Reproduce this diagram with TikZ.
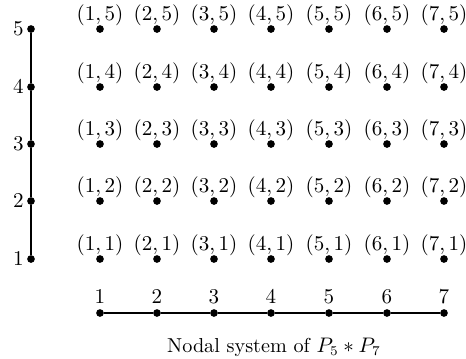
\documentclass[tikz,border=0pt]{standalone}
\begin{document}
\begin{tikzpicture}[x=0.52pt,y=-0.52pt,
  dot/.style={circle,fill=black,inner sep=0pt,minimum size=4pt},
  lbl/.style={inner sep=0pt,font=\fontsize{10.5}{12.6}\selectfont},
  edge/.style={line width=0.8pt}]
\useasboundingbox (0,0) rectangle (466,358);
% vertical path P5
\foreach \i/\y in {1/259,2/201,3/144,4/87,5/29}{
  \node[dot] (v\i) at (31,\y) {};
  \node[lbl,anchor=east] (vl\i) at (24,\y) {$\i$};
}
\draw[edge] (v1) -- (v2) -- (v3) -- (v4) -- (v5);
% horizontal path P7
\foreach \j/\x in {1/100,2/157,3/214,4/271,5/329,6/387,7/444}{
  \node[dot] (h\j) at (\x,313) {};
  \node[lbl] (hl\j) at (\x,297) {$\j$};
}
\draw[edge] (h1) -- (h2) -- (h3) -- (h4) -- (h5) -- (h6) -- (h7);
% grid of nodes
\foreach \j/\x in {1/100,2/157,3/214,4/271,5/329,6/387,7/444}{
  \foreach \i/\y in {1/259,2/201,3/144,4/87,5/29}{
    \node[dot] (g\j\i) at (\x,\y) {};
    \node[lbl] (gl\j\i) at (\x,\y-14) {$(\j,\i)$};
  }
}
\node[lbl] (cap) at (274,347) {Nodal system of $P_5 * P_7$};
\end{tikzpicture}
\end{document}
